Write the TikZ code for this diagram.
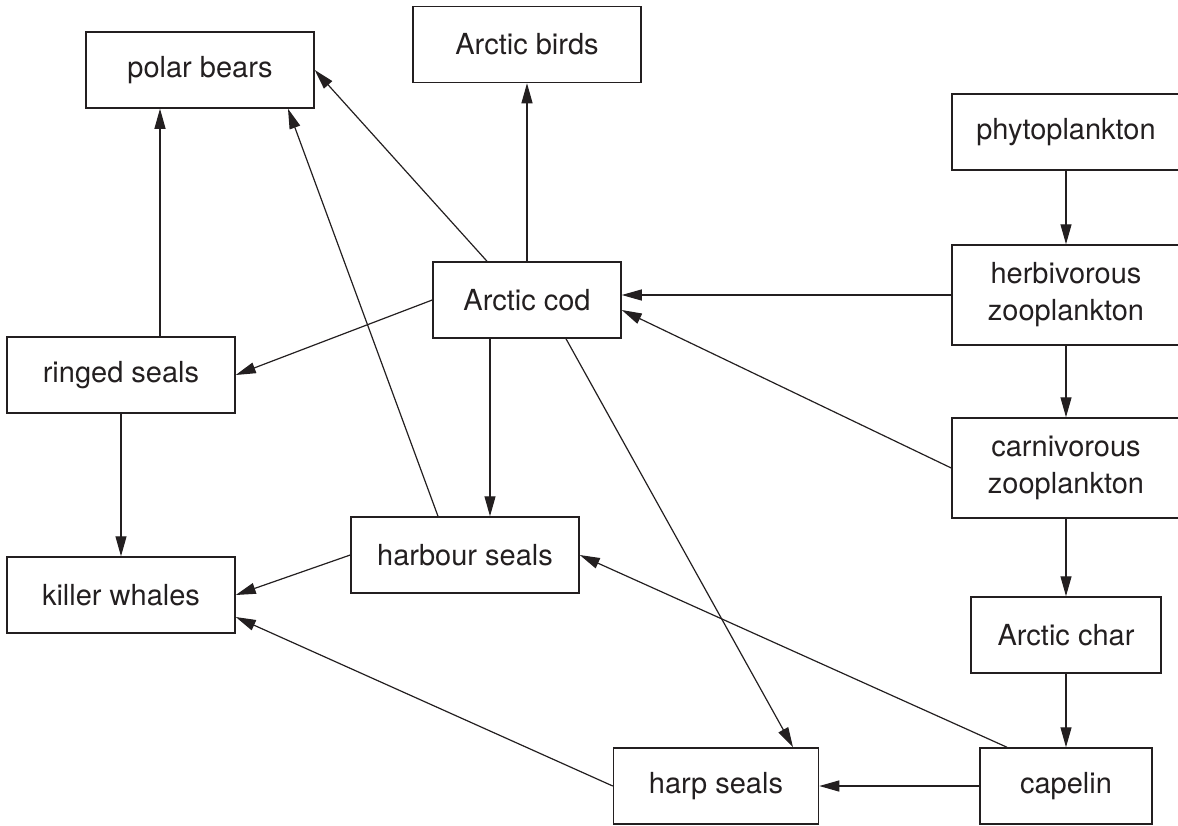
\documentclass[tikz,border=0pt]{standalone}
\usepackage{fontspec}
\setmainfont{TeX Gyre Heros}
\usepackage{tikz}
\usetikzlibrary{arrows.meta}
\definecolor{ink}{HTML}{231F20}

\begin{document}
\begin{tikzpicture}[x = 0.5pt, y = -0.5pt,
		box/.style = {draw = ink, line width = 0.75pt, inner sep = 0pt, minimum height = 38pt, minimum width = 114pt, align = center, text = ink, font = \fontsize{14.5pt}{18.5pt}\selectfont},
		tall/.style = {minimum height = 50pt},
		arr/.style = {draw = ink, line width = 0.6pt, -{Triangle[length = 10pt, width = 5.5pt]}}]
							\useasboundingbox (0,0) rectangle (1178,825);
							
							\node[box] (polar) at (200,70) {polar bears};
							\node[box] (birds) at (527,44.5) {Arctic birds};
							\node[box, minimum width = 94pt] (cod) at (527,300) {Arctic cod};
							\node[box] (ringed) at (121,375) {ringed seals};
							\node[box] (harbour) at (465,555) {harbour seals};
							\node[box] (killer) at (121,595) {killer whales};
							
							\node[box] (phyto) at (1066,132) {phytoplankton};
							\node[box, tall] (herb) at (1066,295) {herbivorous\\zooplankton};
							\node[box, tall] (carn) at (1066,468) {carnivorous\\zooplankton};
							\node[box, minimum width = 95pt] (char) at (1066,635) {Arctic char};
							\node[box, minimum width = 86pt] (capelin) at (1066,786) {capelin};
							\node[box, minimum width = 102.5pt] (harp) at (716,786) {harp seals};
							
							\draw[arr] (phyto.south) -- (herb.north);
							\draw[arr] (herb.south) -- (carn.north);
							\draw[arr] (carn.south) -- (char.north);
							\draw[arr] (char.south) -- (capelin.north);
							
							\draw[arr] (herb.west) -- (herb.west -| cod.east);
							\draw[arr] (carn.west) -- ([yshift = -5pt]cod.east);
							
							\draw[arr] (cod.north) -- (birds.south);
							\draw[arr] ([xshift = -20pt]cod.north) -- (polar.east);
							\draw[arr] (cod.west) -- (ringed.east);
							\draw[arr] ([xshift = -18.5pt]cod.south) -- ([xshift = 12.5pt]harbour.north);
							\draw[arr] ([xshift = 19.5pt]cod.south) -- ([xshift = 38.5pt]harp.north);
							
							\draw[arr] ([xshift = 19.5pt]ringed.north) -- ([xshift = -20pt]polar.south);
							\draw[arr] (ringed.south) -- (killer.north);
							\draw[arr] ([xshift = -13.5pt]harbour.north) -- ([xshift = 44pt]polar.south);
							\draw[arr] (harbour.west) -- (killer.east);
							\draw[arr] (harp.west) -- ([yshift = -11pt]killer.east);
							
							\draw[arr] (capelin.west) -- (harp.east);
							\draw[arr] ([xshift = -29.5pt]capelin.north) -- (harbour.east);
							
						\end{tikzpicture}
\end{document}
